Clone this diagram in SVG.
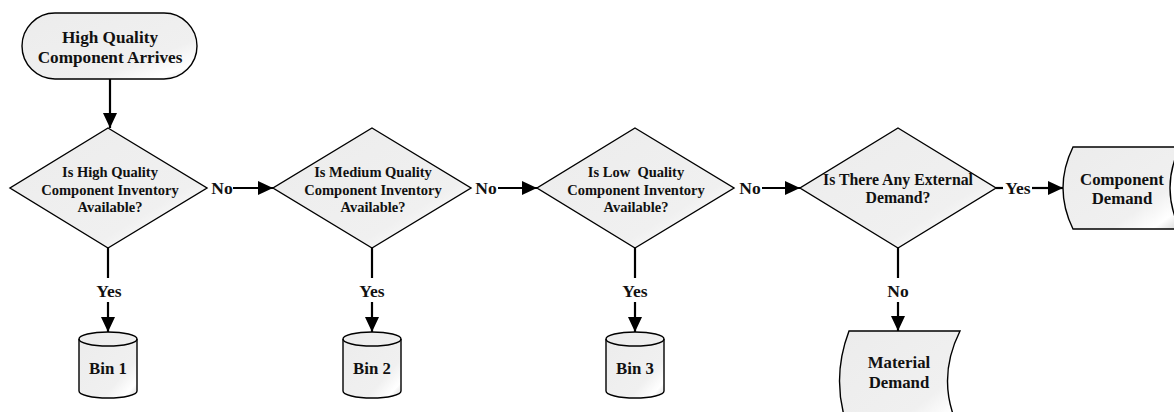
<svg xmlns="http://www.w3.org/2000/svg" width="1174" height="412" viewBox="0 0 1174 412">
<defs>
<linearGradient id="g" x1="0" y1="0" x2="1" y2="1">
<stop offset="0" stop-color="#ececec"/>
<stop offset="0.7" stop-color="#f0f0f0"/>
<stop offset="0.88" stop-color="#ffffff"/>
<stop offset="1" stop-color="#d6d6d6"/>
</linearGradient>
<marker id="arr" markerUnits="userSpaceOnUse" markerWidth="16" markerHeight="14" refX="15" refY="7" orient="auto">
<path d="M0,0 L15,7 L0,14 Z" fill="#000"/>
</marker>
</defs>
<style>
.s{fill:url(#g);stroke:#000;stroke-width:1.4}
.t{font-family:"Liberation Serif","Times New Roman",serif;font-weight:bold;fill:#111;text-anchor:middle}
.d{font-size:14.5px}
.b{font-size:16.8px}
.l{font-size:17.5px}
.c{fill:none;stroke:#000;stroke-width:2.2}
</style>
<rect width="1174" height="412" fill="#fff"/>

<g id="start">
<rect class="s" x="22" y="13" width="175" height="66" rx="33" ry="33"/>
<text class="t b" style="font-size:17.2px" x="110" y="43">High Quality</text>
<text class="t b" style="font-size:17.2px" x="110" y="63">Component Arrives</text>
</g>

<g id="d1">
<polygon class="s" points="108,128 207,188 108,248 10,188"/>
<text class="t d" x="110" y="177">Is High Quality</text>
<text class="t d" x="110" y="195">Component Inventory</text>
<text class="t d" x="110" y="212">Available?</text>
</g>

<g id="d2">
<polygon class="s" points="372,128 471,188 372,248 273,188"/>
<text class="t d" x="373" y="177">Is Medium Quality</text>
<text class="t d" x="373" y="195">Component Inventory</text>
<text class="t d" x="373" y="212">Available?</text>
</g>

<g id="d3">
<polygon class="s" points="635,128 734,188 635,248 537,188"/>
<text class="t d" x="636" y="177" style="white-space:pre">Is Low  Quality</text>
<text class="t d" x="636" y="195">Component Inventory</text>
<text class="t d" x="636" y="212">Available?</text>
</g>

<g id="d4">
<polygon class="s" points="898,128 996,188 898,248 800,188"/>
<text class="t" style="font-size:15.8px" x="898" y="185">Is There Any External</text>
<text class="t" style="font-size:15.8px" x="898" y="203">Demand?</text>
</g>

<g id="bin1">
<path class="s" d="M79,339 L79,391 A29,7 0 0 0 137,391 L137,339 A29,7 0 0 0 79,339 Z"/>
<path d="M79,339 A29,7 0 0 0 137,339" fill="none" stroke="#000" stroke-width="1.4"/>
<text class="t b" x="108" y="374">Bin 1</text>
</g>

<g id="bin2">
<path class="s" d="M343,339 L343,391 A29,7 0 0 0 401,391 L401,339 A29,7 0 0 0 343,339 Z"/>
<path d="M343,339 A29,7 0 0 0 401,339" fill="none" stroke="#000" stroke-width="1.4"/>
<text class="t b" x="372" y="374">Bin 2</text>
</g>

<g id="bin3">
<path class="s" d="M606,339 L606,391 A29,7 0 0 0 664,391 L664,339 A29,7 0 0 0 606,339 Z"/>
<path d="M606,339 A29,7 0 0 0 664,339" fill="none" stroke="#000" stroke-width="1.4"/>
<text class="t b" x="635" y="374">Bin 3</text>
</g>

<g id="component-demand">
<path class="s" d="M1073,147 L1180,147 Q1160,188 1180,229 L1073,229 Q1053,188 1073,147 Z"/>
<text class="t b" x="1122" y="185">Component</text>
<text class="t b" x="1122" y="204">Demand</text>
</g>

<g id="material-demand">
<path class="s" d="M849,331 L960,331 Q935,381 960,431 L849,431 Q830,381 849,331 Z"/>
<text class="t b" x="899" y="368">Material</text>
<text class="t b" x="899" y="388">Demand</text>
</g>

<g id="connectors">
<path class="c" d="M110,79 L110,128" marker-end="url(#arr)"/>
<path class="c" d="M233,188 L273,188" marker-end="url(#arr)"/>
<text class="t l" x="222" y="194">No</text>
<path class="c" d="M498,188 L537,188" marker-end="url(#arr)"/>
<text class="t l" x="486" y="194">No</text>
<path class="c" d="M762,188 L800,188" marker-end="url(#arr)"/>
<text class="t l" x="750" y="194">No</text>
<path class="c" d="M996,188 L1003,188"/>
<path class="c" d="M1032,188 L1063,188" marker-end="url(#arr)"/>
<text class="t l" x="1018" y="194">Yes</text>

<path class="c" d="M108,248 L108,278"/>
<path class="c" d="M108,302 L108,332" marker-end="url(#arr)"/>
<text class="t l" x="109" y="297">Yes</text>
<path class="c" d="M372,248 L372,278"/>
<path class="c" d="M372,302 L372,332" marker-end="url(#arr)"/>
<text class="t l" x="372" y="297">Yes</text>
<path class="c" d="M635,248 L635,278"/>
<path class="c" d="M635,302 L635,332" marker-end="url(#arr)"/>
<text class="t l" x="635" y="297">Yes</text>
<path class="c" d="M898,248 L898,278"/>
<path class="c" d="M898,302 L898,331" marker-end="url(#arr)"/>
<text class="t l" x="898" y="297">No</text>
</g>
</svg>
